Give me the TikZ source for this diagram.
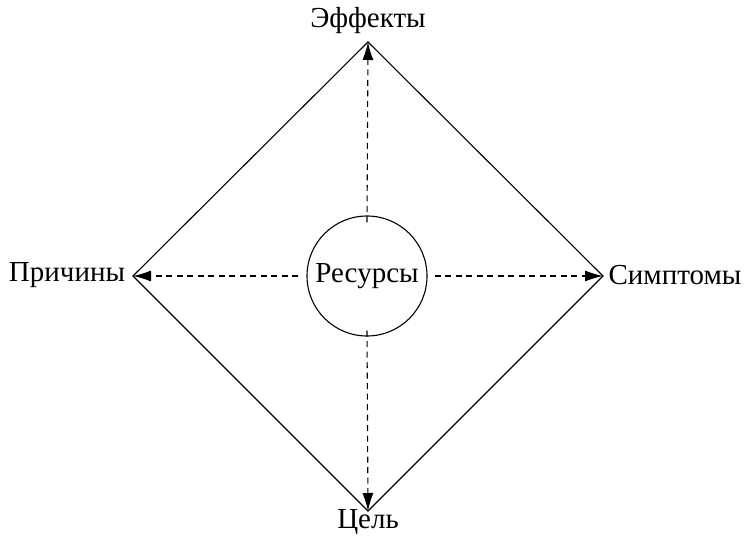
\documentclass[tikz,border=0pt]{standalone}
\usepackage{fontspec}
\setmainfont{Liberation Serif}
\usetikzlibrary{arrows.meta}
\begin{document}
\begin{tikzpicture}[x=1pt,y=-1pt,
  lbl/.style={inner sep=0pt,font=\fontsize{29}{34}\selectfont},
  edge/.style={line width=1.1pt},
  darr/.style={line width=1.1pt,dash pattern=on 6pt off 4.5pt,-{Latex[length=18pt,width=11pt]}}]
\useasboundingbox (0,0) rectangle (746,537);
\coordinate (T) at (368,42);
\coordinate (L) at (133,276);
\coordinate (R) at (603,276);
\coordinate (B) at (368,511);
\node[draw,circle,line width=1.1pt,minimum size=120pt,inner sep=0pt,lbl] (C) at (367,276) {Ресурсы};
\draw[edge] (T) -- (R) -- (B) -- (L) -- cycle;
\draw[darr] ([yshift=-7pt]C.north) -- (T);
\draw[darr] ([yshift=6pt]C.south) -- (B);
\draw[darr] ([xshift=-8pt]C.west) -- (L);
\draw[darr] ([xshift=7pt]C.east) -- (R);
\node[lbl] (te) at (368,21) {Эффекты};
\node[lbl] (tl) at (67,275) {Причины};
\node[lbl] (tr) at (675,275) {Симптомы};
\node[lbl] (tb) at (368,522) {Цель};
\end{tikzpicture}
\end{document}
